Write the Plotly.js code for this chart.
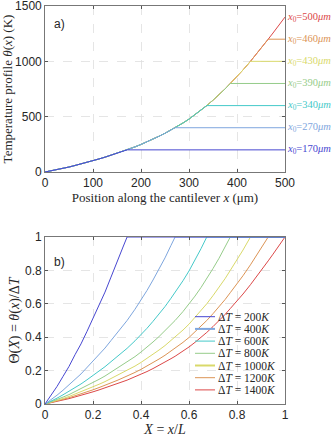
<!DOCTYPE html>
<html>
<head>
<meta charset="utf-8">
<script src="https://cdn.plot.ly/plotly-3.0.1.min.js"></script>
<style>
	html, body { margin: 0; padding: 0; background: #fff; }
	#chart { width: 334px; height: 437px; }
</style>
</head>
<body>
<div id="chart"></div>
<script>
// temperature profile read off panel a) (um, K)
const xPos  = [0, 12.5, 25, 37.5, 50, 62.5, 75, 87.5, 100, 112.5, 125, 137.5, 150, 162.5, 171, 187.5, 200, 212.5, 225, 237.5,
	250, 262.5, 271, 287.5, 300, 312.5, 325, 337, 350, 362.5, 375, 386, 400, 412.5, 428, 437.5, 450, 465, 475, 487.5, 500];
const theta = [0, 10, 21, 33, 45, 59, 72, 87, 102, 118, 134, 152, 169, 188, 200, 227, 249, 272, 297, 323,
	350, 380, 400, 443, 478, 517, 558, 600, 649, 698, 750, 800, 863, 922, 1000, 1049, 1115, 1200, 1256, 1327, 1400];
const deltaT = [200, 400, 600, 800, 1000, 1200, 1400];
const x0Labels = [170, 270, 340, 390, 430, 460, 500];
const x0Pos = [171, 271, 337, 386, 428, 465, 500];
const cantileverL = 500;
const colors = ['#4747d1', '#7ea6de', '#45c9c9', '#96cc8a', '#d9d96a', '#dc9455', '#dc4848'];

const serif = 'Liberation Serif, DejaVu Serif, serif';
const sans = 'Liberation Sans, Arial, sans-serif';
const ink = '#262626';

// pixel helpers for the hand placed bits (plot area 45..285 wide, bottom at 404, margin top 6)
const px = (p) => (p - 45) / 240;
const py = (p) => (404 - p) / 398;

const traces = [];
// draw red first so the blue curve ends up on top, like the figure
for (let k = deltaT.length - 1; k >= 0; k--) {
	const xs = [], ys = [], Xs = [], Ts = [];
	for (let i = 0; i < xPos.length && xPos[i] <= x0Pos[k]; i++) {
		xs.push(xPos[i]);
		ys.push(theta[i]);
		Xs.push(xPos[i] / cantileverL);
		Ts.push(theta[i] / deltaT[k]);
	}
	xs.push(cantileverL); ys.push(deltaT[k]);
	Xs.push(1); Ts.push(1);
	traces.push({
		x: xs, y: ys, xaxis: 'x', yaxis: 'y',
		type: 'scatter', mode: 'lines',
		line: { color: colors[k], width: 1 },
		showlegend: false, hoverinfo: 'skip'
	});
	traces.push({
		x: Xs, y: Ts, xaxis: 'x2', yaxis: 'y2',
		type: 'scatter', mode: 'lines',
		line: { color: colors[k], width: 1 },
		showlegend: false, hoverinfo: 'skip'
	});
}

const annotations = [];
const shapes = [];
deltaT.forEach(function (dT, k) {
	annotations.push({
		xref: 'x', yref: 'y', x: cantileverL, y: dT,
		xanchor: 'left', yanchor: 'middle', xshift: 1, borderpad: 0,
		text: '<i>x</i><sub>0</sub>=' + x0Labels[k] + '<i>μm</i>',
		showarrow: false,
		font: { family: serif, size: 10.5, color: colors[k] }
	});
	// hand-built legend for panel b), MATLAB rows are tighter than plotly's
	const rowY = py(316.7 + k * 12.2);
	shapes.push({
		type: 'line', xref: 'paper', yref: 'paper',
		x0: px(195), x1: px(215), y0: rowY, y1: rowY,
		line: { color: colors[k], width: (k === 1 || k === 4) ? 2 : 1 }
	});
	annotations.push({
		xref: 'paper', yref: 'paper', x: px(216), y: rowY,
		xanchor: 'left', yanchor: 'middle',
		text: 'Δ<i>T</i> = ' + dT + '<i>K</i>',
		showarrow: false,
		font: { family: serif, size: 11.5, color: ink }
	});
});
annotations.push({
	xref: 'paper', yref: 'paper', x: px(52), y: py(24),
	xanchor: 'left', yanchor: 'middle', text: 'a)', showarrow: false,
	font: { family: sans, size: 12, color: ink }
});
annotations.push({
	xref: 'paper', yref: 'paper', x: px(52), y: py(262),
	xanchor: 'left', yanchor: 'middle', text: 'b)', showarrow: false,
	font: { family: sans, size: 12, color: ink }
});

const axisStyle = {
	showline: true, mirror: 'ticks', linecolor: '#555', linewidth: 0.8,
	ticks: 'inside', ticklen: 3, tickcolor: '#555',
	showgrid: true, gridcolor: '#dedede', griddash: 'dash', gridwidth: 0.8,
	zeroline: false, ticklabeloverflow: 'allow',
	tickfont: { family: sans, size: 12, color: ink }
};

const layout = {
	width: 334, height: 437,
	margin: { l: 45, r: 49, t: 6, b: 33 },
	paper_bgcolor: '#fff', plot_bgcolor: '#fff',
	xaxis: Object.assign({}, axisStyle, {
		domain: [0, 1], anchor: 'y', range: [0, 500], dtick: 100,
		title: { text: 'Position along the cantilever <i>x</i> (μm)', font: { family: serif, size: 13, color: ink }, standoff: 3 }
	}),
	yaxis: Object.assign({}, axisStyle, {
		domain: [py(172), 1], anchor: 'x', range: [0, 1500], dtick: 500,
		title: { text: 'Temperature profile <i>θ</i>(<i>x</i>) (K)', font: { family: serif, size: 13, color: ink }, standoff: 1 }
	}),
	xaxis2: Object.assign({}, axisStyle, {
		domain: [0, 1], anchor: 'y2', range: [0, 1], dtick: 0.2,
		title: { text: '<i>X</i> = <i>x</i>/<i>L</i>', font: { family: serif, size: 14, color: ink }, standoff: 0 }
	}),
	yaxis2: Object.assign({}, axisStyle, {
		domain: [0, py(237)], anchor: 'x2', range: [0, 1], dtick: 0.2,
		title: { text: 'Θ(<i>X</i>) = <i>θ</i>(<i>x</i>)/Δ<i>T</i>', font: { family: serif, size: 14, color: ink }, standoff: 2 }
	}),
	annotations: annotations,
	shapes: shapes
};

Plotly.newPlot('chart', traces, layout, { staticPlot: true });
</script>
</body>
</html>
